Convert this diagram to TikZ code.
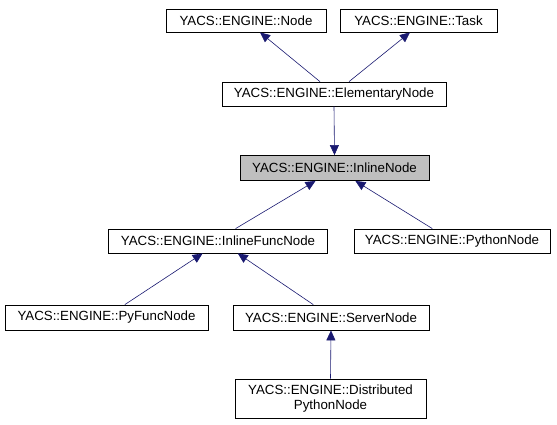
\documentclass[tikz,border=0pt]{standalone}
\usepackage{fontspec}
\setmainfont{Liberation Sans}
\usetikzlibrary{arrows.meta,calc}
\definecolor{edgeblue}{HTML}{191970}
\tikzset{
  cls/.style={draw=black, line width=0.8pt, fill=white, inner sep=0pt, align=center, font=\fontsize{13.3}{14.5}\selectfont},
  cur/.style={cls, fill=black!25},
  inh/.style={draw=edgeblue, line width=0.6pt, -{Triangle[length=10pt,width=9pt]}, shorten >=0pt},
}
\begin{document}
\begin{tikzpicture}[x=1pt,y=-1pt]
\useasboundingbox (0,0) rectangle (557,425);
\node[cls, minimum width=160pt, minimum height=23pt] (node) at (246,20.5) {YACS::ENGINE::Node};
\node[cls, minimum width=157pt, minimum height=23pt] (task) at (418.5,20.5) {YACS::ENGINE::Task};
\node[cls, minimum width=224pt, minimum height=24pt] (elem) at (334,94) {YACS::ENGINE::ElementaryNode};
\node[cur, minimum width=189pt, minimum height=25pt] (inline) at (334.5,168) {YACS::ENGINE::InlineNode};
\node[cls, minimum width=219pt, minimum height=24pt] (ifunc) at (218,241) {YACS::ENGINE::InlineFuncNode};
\node[cls, minimum width=196pt, minimum height=24pt] (python) at (452,241) {YACS::ENGINE::PythonNode};
\node[cls, minimum width=203pt, minimum height=25pt] (pyfunc) at (106.5,317.5) {YACS::ENGINE::PyFuncNode};
\node[cls, minimum width=196pt, minimum height=25pt] (server) at (331,317.5) {YACS::ENGINE::ServerNode};
\node[cls, minimum width=191pt, minimum height=39pt] (dist) at (330.5,398.5) {YACS::ENGINE::Distributed\\PythonNode};

\draw[inh] ($(elem.north west)!0.4375!(elem.north east)$) -- ($(node.south west)!0.5875!(node.south east)$);
\draw[inh] ($(elem.north west)!0.567!(elem.north east)$) -- ($(task.south west)!0.446!(task.south east)$);
\draw[inh] (elem.south) -- (inline.north);
\draw[inh] ($(ifunc.north west)!0.58!(ifunc.north east)$) -- ($(inline.south west)!0.40!(inline.south east)$);
\draw[inh] ($(python.north west)!0.40!(python.north east)$) -- ($(inline.south west)!0.61!(inline.south east)$);
\draw[inh] ($(pyfunc.north west)!0.59!(pyfunc.north east)$) -- ($(ifunc.south west)!0.43!(ifunc.south east)$);
\draw[inh] ($(server.north west)!0.41!(server.north east)$) -- ($(ifunc.south west)!0.59!(ifunc.south east)$);
\draw[inh] (dist.north) -- (server.south);
\end{tikzpicture}
\end{document}
